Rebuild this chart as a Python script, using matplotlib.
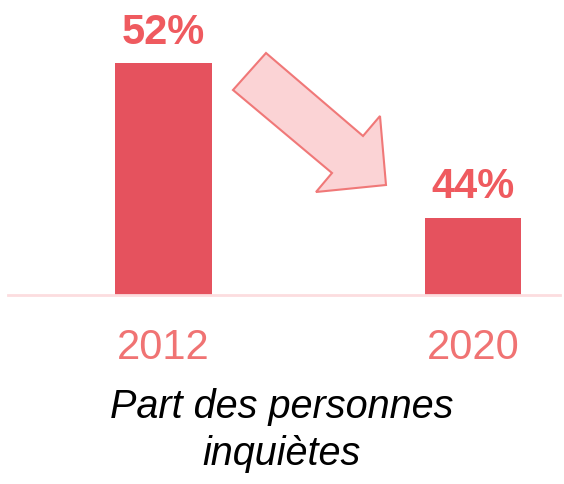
import matplotlib
matplotlib.use("Agg")
import matplotlib.pyplot as plt
from matplotlib.patches import Polygon

# chart data
years = ["2012", "2020"]
shares = [52, 44]
share_labels = ["52%", "44%"]
caption_lines = ["Part des personnes", "inquiètes"]

BAR_COLOR = "#E5525E"
VALUE_COLOR = "#EF5A5F"
YEAR_COLOR = "#F07373"
BASE_COLOR = "#FCDDDF"

plt.rcParams["font.family"] = ["Liberation Sans", "DejaVu Sans"]

W, H = 564, 484
fig = plt.figure(figsize=(W / 100, H / 100), dpi=100)
# axes spans the baseline line (x 8..560 px) and ends at baseline y=295 px
ax = fig.add_axes([8 / W, (H - 295) / H, 552 / W, 295 / H])

x = list(range(len(years)))
ax.bar(x, shares, width=0.313, color=BAR_COLOR)
ax.set_xlim(-0.5024, 1.281)
ax.set_ylim(40, 55.26)

for xi, v, lab in zip(x, shares, share_labels):
    ax.annotate(lab, (xi, v), xytext=(0, 14), textcoords="offset points",
                ha="center", va="baseline", fontsize=30, fontweight="bold",
                color=VALUE_COLOR)

ax.set_xticks(x)
ax.set_xticklabels(years, fontsize=30, color=YEAR_COLOR)
ax.tick_params(axis="x", length=0, pad=24)
ax.set_yticks([])
for side in ["top", "left", "right"]:
    ax.spines[side].set_visible(False)
ax.spines["bottom"].set_color(BASE_COLOR)
ax.spines["bottom"].set_linewidth(2)

# decorative downward arrow between the bars (pixel coords, top-left origin)
arrow_px = [(233, 90), (266, 53), (363, 136), (380, 116),
            (386, 185), (316, 192), (332, 173)]
arrow_fig = [(px / W, 1 - py / H) for px, py in arrow_px]
fig.patches.append(Polygon(arrow_fig, closed=True, transform=fig.transFigure,
                           facecolor="#FBD3D5", edgecolor="#F07878", lw=1.5))

# caption, one text per line so each baseline can be placed
for line, base_px in zip(caption_lines, [418, 465]):
    fig.text(0.5, 1 - base_px / H, line, ha="center", va="baseline",
             fontsize=28.5, style="italic", color="black")

fig.savefig("out.png", dpi=100)
